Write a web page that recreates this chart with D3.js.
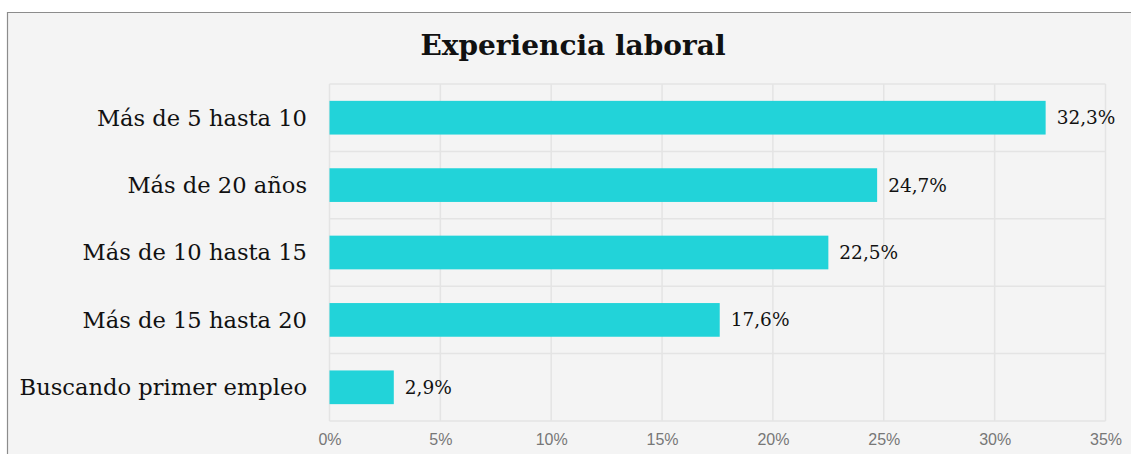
<!DOCTYPE html>
<html>
<head>
<meta charset="utf-8">
<script src="https://cdn.jsdelivr.net/npm/d3@7"></script>
<style>
  html, body { margin: 0; padding: 0; background: #fff; }
  svg { display: block; }
</style>
</head>
<body>
<div id="chart"></div>
<script>
// data
var categories = ['Más de 5 hasta 10', 'Más de 20 años', 'Más de 10 hasta 15', 'Más de 15 hasta 20', 'Buscando primer empleo'];
var values = [32.3, 24.7, 22.5, 17.6, 2.9];
var valueLabels = ['32,3%', '24,7%', '22,5%', '17,6%', '2,9%'];
var ticks = [0, 5, 10, 15, 20, 25, 30, 35];

var width = 1131, height = 454;
var plot = {left: 329.5, right: 1105.5, top: 84, bottom: 421};

var svg = d3.select('#chart').append('svg')
    .attr('width', width)
    .attr('height', height);

// panel background + border (top and left only)
svg.append('rect')
    .attr('x', 7).attr('y', 12)
    .attr('width', width - 7).attr('height', height - 12)
    .attr('fill', '#f4f4f4');
svg.append('path')
    .attr('d', 'M7.5,' + height + 'V12.5H' + width)
    .attr('fill', 'none')
    .attr('stroke', '#8c8c8c')
    .attr('stroke-width', 1.2);

// title
svg.append('text')
    .attr('x', 573).attr('y', 55)
    .attr('text-anchor', 'middle')
    .attr('font-family', '"DejaVu Serif", serif')
    .attr('font-weight', 'bold')
    .attr('font-size', 28)
    .attr('fill', '#111')
    .text('Experiencia laboral');

var x = d3.scaleLinear().domain([0, 35]).range([plot.left, plot.right]);
var y = d3.scaleBand().domain(categories).range([plot.top, plot.bottom]).paddingInner(0.5).paddingOuter(0.25);
var rows = d3.scaleBand().domain(categories).range([plot.top, plot.bottom]);

var grid = svg.append('g').attr('stroke', '#e4e4e4').attr('stroke-width', 1.5);
// vertical gridlines
grid.selectAll('line.v').data(ticks).enter().append('line')
    .attr('class', 'v')
    .attr('x1', d => x(d)).attr('x2', d => x(d))
    .attr('y1', plot.top).attr('y2', plot.bottom);
// horizontal row lines
grid.selectAll('line.h').data(categories.concat(['__end'])).enter().append('line')
    .attr('class', 'h')
    .attr('x1', plot.left).attr('x2', plot.right)
    .attr('y1', (d, i) => i < categories.length ? rows(d) : plot.bottom)
    .attr('y2', (d, i) => i < categories.length ? rows(d) : plot.bottom);

// bars
svg.selectAll('rect.bar').data(values).enter().append('rect')
    .attr('class', 'bar')
    .attr('x', x(0))
    .attr('y', (d, i) => y(categories[i]))
    .attr('width', d => x(d) - x(0))
    .attr('height', y.bandwidth())
    .attr('fill', '#22d3d9');

// value labels
svg.selectAll('text.val').data(values).enter().append('text')
    .attr('class', 'val')
    .attr('x', d => x(d) + 11)
    .attr('y', (d, i) => y(categories[i]) + y.bandwidth() / 2)
    .attr('dy', '0.35em')
    .attr('font-family', '"DejaVu Serif", serif')
    .attr('font-size', 18.5)
    .attr('fill', '#111')
    .text((d, i) => valueLabels[i]);

// category labels
svg.selectAll('text.cat').data(categories).enter().append('text')
    .attr('class', 'cat')
    .attr('x', 307)
    .attr('y', d => y(d) + y.bandwidth() / 2)
    .attr('dy', '0.35em')
    .attr('text-anchor', 'end')
    .attr('font-family', '"DejaVu Serif", serif')
    .attr('font-size', 22.6)
    .attr('fill', '#111')
    .text(d => d);

// x axis tick labels
var xAxis = d3.axisBottom(x).tickValues(ticks).tickSize(0).tickPadding(13).tickFormat(d => d + '%');
var ax = svg.append('g')
    .attr('transform', 'translate(0,' + plot.bottom + ')')
    .call(xAxis);
ax.select('.domain').remove();
ax.selectAll('text')
    .attr('font-family', '"Liberation Sans", Arial, sans-serif')
    .attr('font-size', 16)
    .attr('fill', '#777');
</script>
</body>
</html>
